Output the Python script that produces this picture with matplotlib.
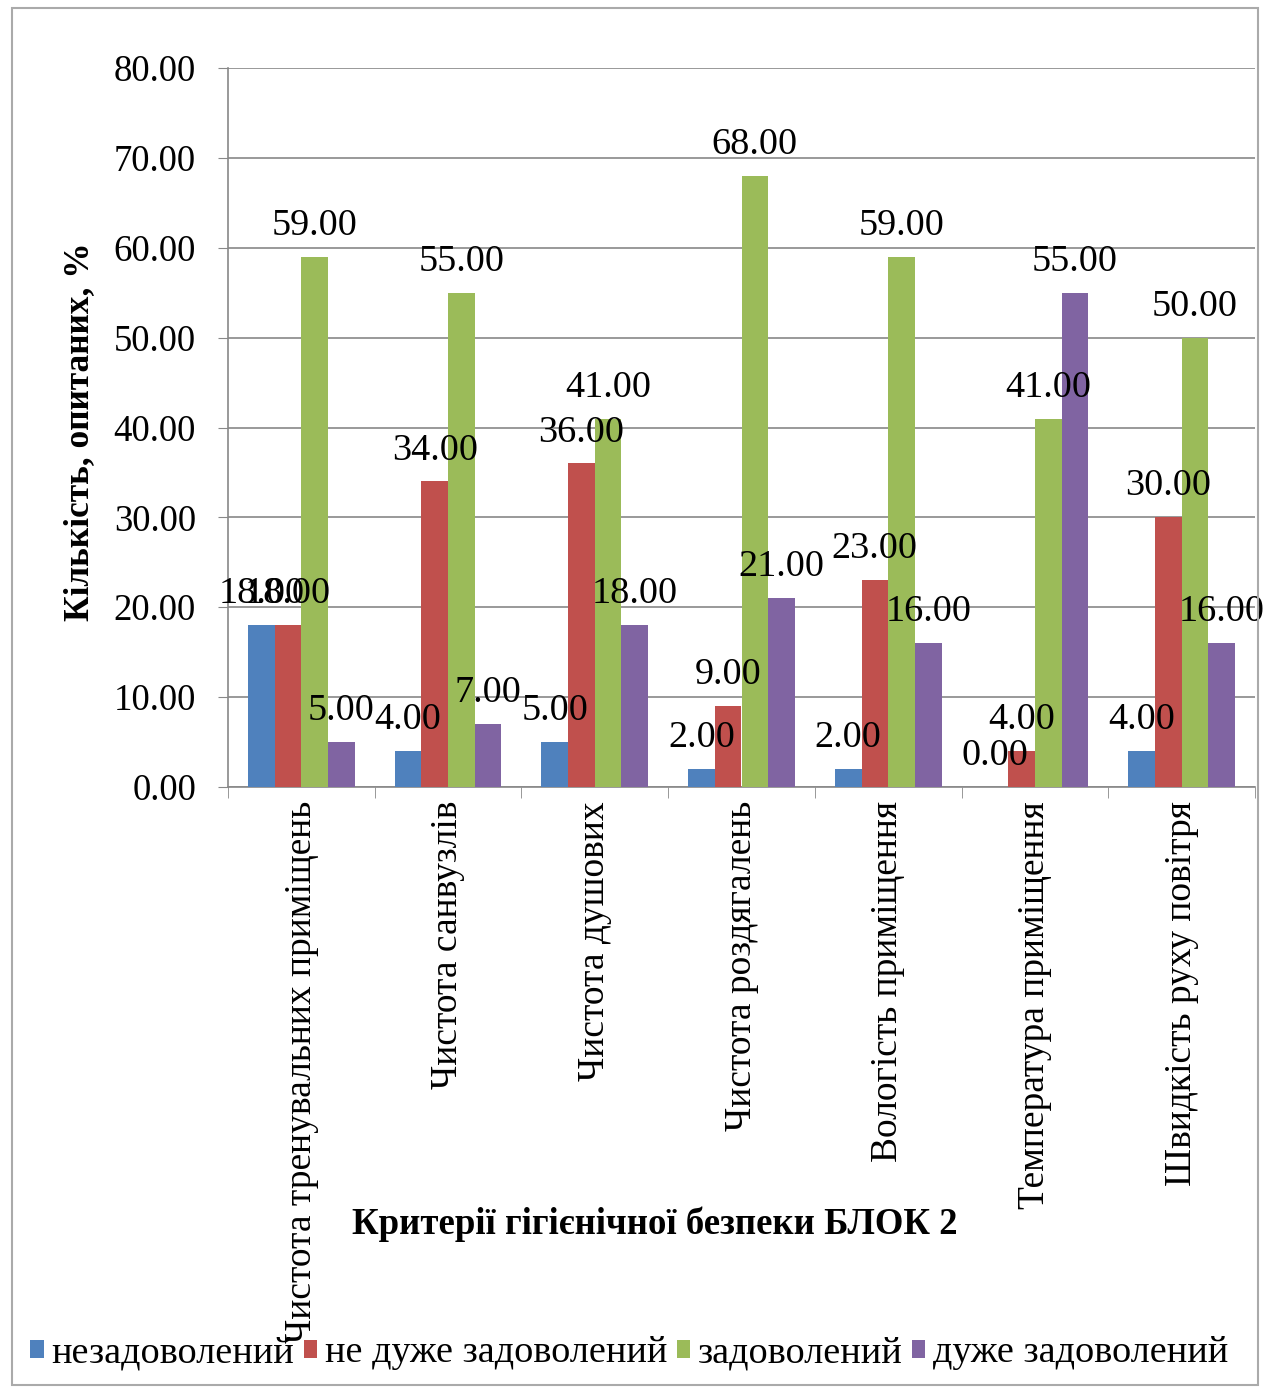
import numpy as np
import matplotlib.pyplot as plt
from matplotlib.patches import Rectangle

plt.rcParams['font.family'] = ['Liberation Serif', 'DejaVu Serif']

categories = ['Чистота тренувальних приміщень', 'Чистота санвузлів', 'Чистота душових',
              'Чистота роздягалень', 'Вологість приміщення', 'Температура приміщення',
              'Швидкість руху повітря']
series_names = ['незадоволений', 'не дуже задоволений', 'задоволений', 'дуже задоволений']
nezadov = [18, 4, 5, 2, 2, 0, 4]
ne_duzhe = [18, 34, 36, 9, 23, 4, 30]
zadov = [59, 55, 41, 68, 59, 41, 50]
duzhe = [5, 7, 18, 21, 16, 55, 16]
colors = ['#4F81BD', '#C0504D', '#9BBB59', '#8064A2']

fig = plt.figure(figsize=(12.64, 13.91), dpi=100)
ax = fig.add_axes([228 / 1264, 1 - 787 / 1391, 1027 / 1264, (787 - 68) / 1391])

x = np.arange(len(categories))
w = 0.182
all_series = [nezadov, ne_duzhe, zadov, duzhe]
for i, vals in enumerate(all_series):
    pos = x + (i - 1.5) * w
    ax.bar(pos, vals, width=w, color=colors[i], zorder=3, label=series_names[i])
    for p, v in zip(pos, vals):
        ax.annotate('%.2f' % v, (p, v), xytext=(0, 10), textcoords='offset points',
                    ha='center', va='bottom', fontsize=27.5, zorder=4)

ax.set_xlim(-0.5, len(categories) - 0.5)
ax.set_ylim(0, 80)
ax.set_yticks(np.arange(0, 81, 10))
ax.set_yticklabels(['%.2f' % t for t in np.arange(0, 81, 10)], fontsize=26.5)
ax.yaxis.grid(True, color='#888888', linewidth=1.2, zorder=0)
ax.set_xticks(x)
ax.set_xticklabels(categories, rotation=90, fontsize=27, va='top', ha='center')
ax.set_xticks(np.arange(-0.5, len(categories), 1), minor=True)
ax.tick_params(axis='x', which='major', length=0, pad=10)
ax.tick_params(axis='x', which='minor', length=8, color='#888888')
ax.tick_params(axis='y', length=7, color='#888888', pad=16)
for s in ['top', 'right']:
    ax.spines[s].set_visible(False)
for s in ['left', 'bottom']:
    ax.spines[s].set_color('#888888')
    ax.spines[s].set_linewidth(1.2)

fig.text(80 / 1264, 1 - 432 / 1391, 'Кількість, опитаних, %', fontsize=25.5,
         fontweight='bold', rotation=90, ha='center', va='center')
fig.text(655 / 1264, 1 - 1224 / 1391, 'Критерії гігієнічної безпеки БЛОК 2', fontsize=26.5,
         fontweight='bold', ha='center', va='center')

leg = fig.legend(loc='center left', bbox_to_anchor=(15 / 1264, 1 - 1353 / 1391), ncol=4,
                 frameon=False, fontsize=27.5, handlelength=0.35, handleheight=0.35,
                 handletextpad=0.2, columnspacing=0.25, borderaxespad=0)

fig.patches.append(Rectangle((12 / 1264, 1 - 1385 / 1391), 1246 / 1264, 1377 / 1391,
                             transform=fig.transFigure, fill=False, edgecolor='#aaaaaa',
                             linewidth=1.5))

fig.savefig('out.png', dpi=100)
